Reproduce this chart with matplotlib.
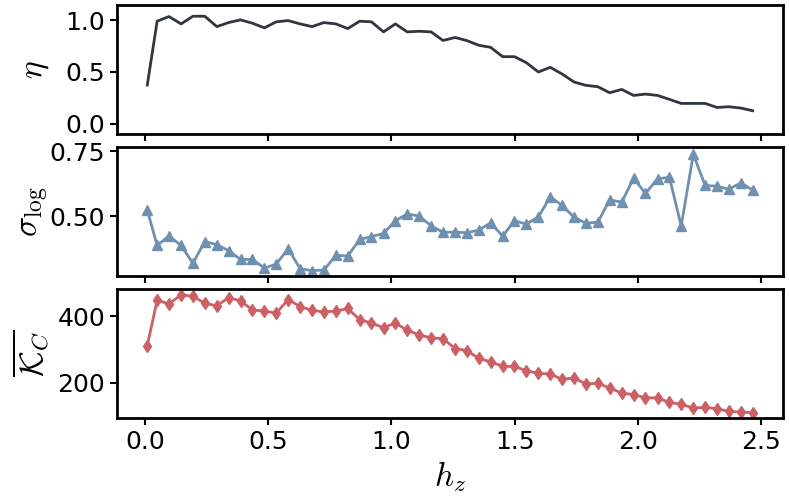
import numpy as np
import matplotlib
matplotlib.use("Agg")
import matplotlib.pyplot as plt

plt.rcParams['mathtext.fontset'] = 'cm'
plt.rcParams['axes.linewidth'] = 2.0

hz = [0.010, 0.050, 0.098, 0.147, 0.195, 0.243, 0.292, 0.340, 0.388, 0.436,
      0.485, 0.533, 0.581, 0.630, 0.678, 0.726, 0.775, 0.823, 0.871, 0.919,
      0.968, 1.016, 1.064, 1.113, 1.161, 1.209, 1.258, 1.306, 1.354, 1.402,
      1.451, 1.499, 1.547, 1.596, 1.644, 1.692, 1.741, 1.789, 1.837, 1.885,
      1.934, 1.982, 2.030, 2.079, 2.127, 2.175, 2.224, 2.272, 2.320, 2.368,
      2.417, 2.465]

eta = [0.373, 0.989, 1.034, 0.963, 1.037, 1.037, 0.937, 0.976, 1.002, 0.970,
       0.925, 0.983, 0.995, 0.963, 0.937, 0.976, 0.963, 0.918, 0.989, 0.983,
       0.886, 0.963, 0.886, 0.892, 0.886, 0.803, 0.832, 0.802, 0.757, 0.737,
       0.647, 0.647, 0.589, 0.499, 0.544, 0.480, 0.402, 0.370, 0.357, 0.299,
       0.331, 0.273, 0.286, 0.273, 0.235, 0.196, 0.196, 0.196, 0.157, 0.164,
       0.151, 0.125]

sigma_log = [0.523, 0.387, 0.423, 0.387, 0.318, 0.402, 0.390, 0.367, 0.333, 0.333,
             0.300, 0.315, 0.374, 0.297, 0.290, 0.292, 0.349, 0.346, 0.410, 0.421,
             0.433, 0.482, 0.508, 0.500, 0.462, 0.438, 0.438, 0.436, 0.446, 0.474,
             0.423, 0.482, 0.469, 0.497, 0.574, 0.541, 0.495, 0.472, 0.477, 0.562,
             0.554, 0.646, 0.587, 0.644, 0.649, 0.462, 0.738, 0.618, 0.615, 0.603,
             0.628, 0.600]

kappa_c = [312, 449, 438, 465, 461, 440, 432, 457, 447, 420,
           416, 410, 451, 430, 418, 414, 416, 424, 390, 380,
           366, 380, 358, 344, 335, 333, 303, 297, 273, 263,
           249, 249, 236, 228, 226, 210, 214, 196, 198, 184,
           168, 164, 154, 154, 140, 135, 123, 125, 121, 113,
           111, 109]

fig, axs = plt.subplots(3, 1, sharex=True, figsize=(7.89, 5.04), dpi=100)
fig.subplots_adjust(left=0.1483, right=0.9924, top=0.990, bottom=0.1706, hspace=0.1)

axs[0].plot(hz, eta, color='#30373f', lw=2.0)
axs[1].plot(hz, sigma_log, color='#7090b0', lw=2.0, marker='^', ms=6.5)
axs[2].plot(hz, kappa_c, color='#cc6064', lw=2.0, marker='d', ms=6.5)

axs[0].set_ylim(-0.10, 1.145)
axs[0].set_yticks([0.0, 0.5, 1.0])
axs[1].set_ylim(0.269, 0.766)
axs[1].set_yticks([0.50, 0.75])
axs[2].set_ylim(93, 483)
axs[2].set_yticks([200, 400])

axs[0].set_ylabel(r'$\eta$', fontsize=24, labelpad=-1)
axs[1].set_ylabel(r'$\sigma_{\mathrm{log}}$', fontsize=24, labelpad=-1)
axs[2].set_ylabel(r'$\overline{\mathcal{K}_C}$', fontsize=24, labelpad=-1)
axs[2].set_xlabel(r'$h_z$', fontsize=24)
axs[2].set_xticks([0.0, 0.5, 1.0, 1.5, 2.0, 2.5])

for ax in axs:
    ax.tick_params(labelsize=18, width=1.5, length=5)

fig.align_ylabels(axs)
plt.savefig("out.png", dpi=100)
